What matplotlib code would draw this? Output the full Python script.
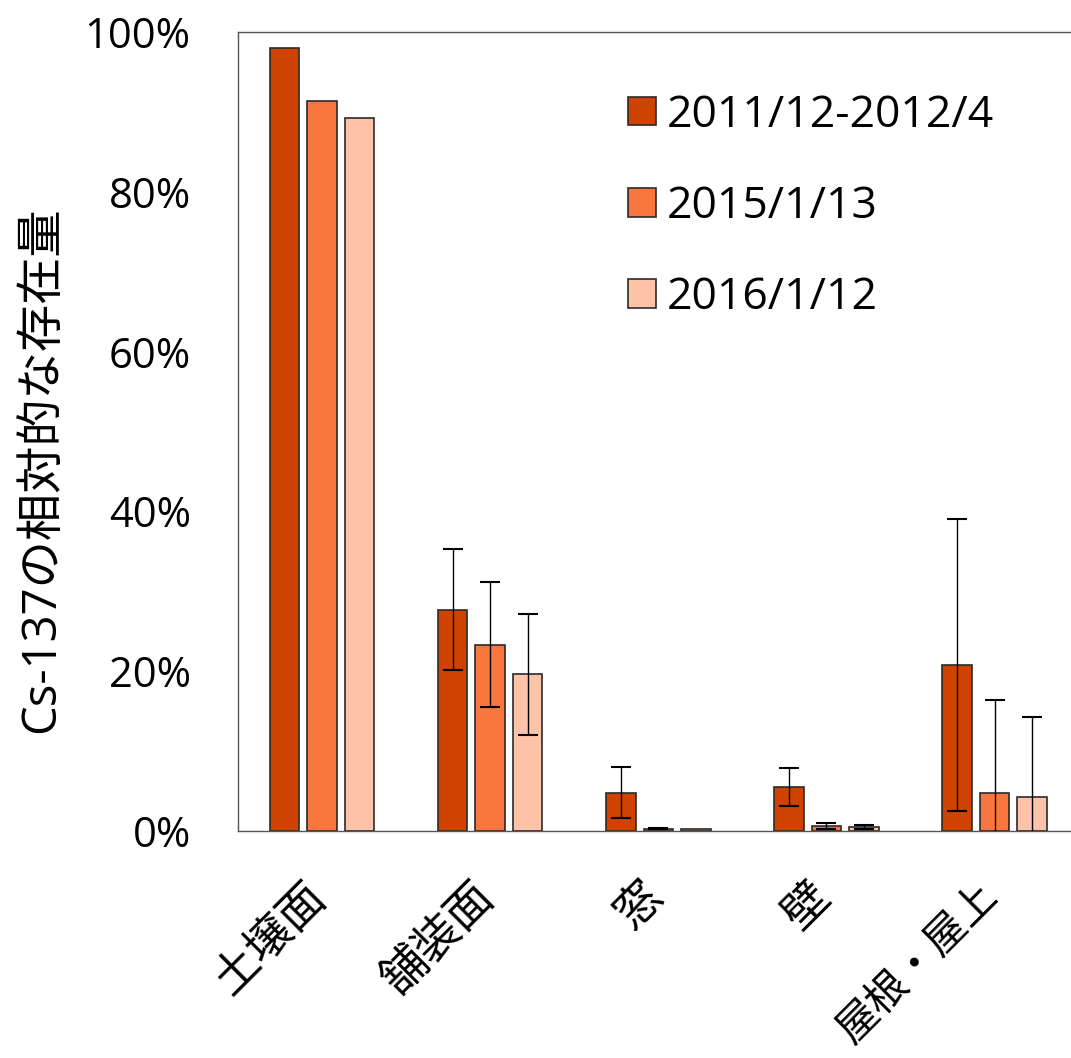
import numpy as np
import matplotlib
matplotlib.use("Agg")
import matplotlib.pyplot as plt
import matplotlib.transforms as mtransforms
from matplotlib.ticker import PercentFormatter

# ==================================================
# DATA (persentase relatif Cs-137)
# ==================================================
categories = ["土壌面", "舗装面", "窓", "壁", "屋根・屋上"]
series_labels = ["2011/12-2012/4", "2015/1/13", "2016/1/12"]

val_2011 = [98.0, 27.7, 4.8, 5.5, 20.8]
val_2015 = [91.4, 23.3, 0.3, 0.6, 4.8]
val_2016 = [89.2, 19.6, 0.2, 0.5, 4.3]

err_2011 = [0.0, 7.6, 3.2, 2.4, 18.3]
err_2015 = [0.0, 7.8, 0.1, 0.4, 11.6]
err_2016 = [0.0, 7.6, 0.0, 0.3, 10.0]

colors = ["#CF4200", "#F9773F", "#FCC3A8"]

# ==================================================
# GRAFIK
# ==================================================
plt.rcParams['font.family'] = ['Open Sans', 'Noto Sans CJK JP', 'DejaVu Sans']

fig = plt.figure(figsize=(10.71, 10.58), dpi=100)
ax = fig.add_axes([0.2222, 0.2146, 0.785, 0.7552])

x = np.arange(len(categories))
offset = 0.223
width = 0.176
all_vals = [val_2011, val_2015, val_2016]
all_errs = [err_2011, err_2015, err_2016]

for i in range(3):
    pos = x + (i - 1) * offset
    ax.bar(pos, all_vals[i], width, color=colors[i],
           edgecolor="#2a2a2a", linewidth=1.2, label=series_labels[i], zorder=2)
    yerr = np.array(all_errs[i])
    mask = yerr > 0
    ax.errorbar(pos[mask], np.array(all_vals[i])[mask], yerr=yerr[mask],
                fmt="none", ecolor="black", elinewidth=1.0, capsize=7,
                capthick=1.5, zorder=3)

ax.set_xlim(-0.5, 4.5)
ax.set_ylim(0, 100)
ax.set_yticks([0, 20, 40, 60, 80, 100])
ax.yaxis.set_major_formatter(PercentFormatter(decimals=0))
ax.tick_params(axis="y", length=0, pad=34, labelsize=30)
ax.tick_params(axis="x", length=0, pad=42)
ax.set_xticks(x)
ax.set_xticklabels(categories, rotation=45, ha="right", va="center",
                   rotation_mode="anchor", fontsize=33,
                   family=['Noto Sans CJK JP'])

# geser label sumbu-x sedikit ke kiri
shift = mtransforms.ScaledTranslation(-3 / 100, 0, fig.dpi_scale_trans)
for lbl in ax.get_xticklabels():
    lbl.set_transform(lbl.get_transform() + shift)
# label terakhir agak panjang, kecilkan sedikit
ax.get_xticklabels()[-1].set_fontsize(30)

for s in ax.spines.values():
    s.set_color("#555555")
    s.set_linewidth(1.0)

ax.set_ylabel("Cs-137の相対的な存在量", fontsize=34)
ax.yaxis.set_label_coords(-0.206, 0.452)

ax.legend(frameon=False, loc="upper left", bbox_to_anchor=(628 / 1071, 0.912),
          bbox_transform=fig.transFigure, fontsize=32, handlelength=0.62,
          handleheight=0.62, handletextpad=0.25, labelspacing=1.05,
          borderpad=0, borderaxespad=0)

fig.savefig("out.png", dpi=100)
